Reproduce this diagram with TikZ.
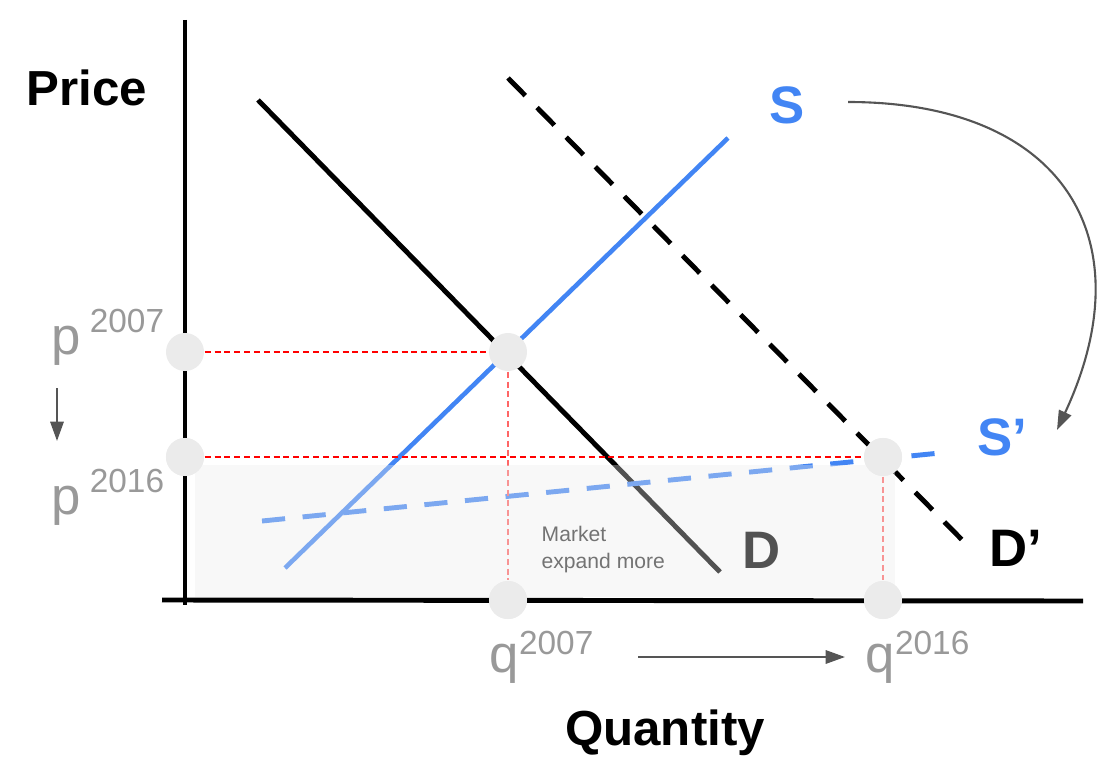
\documentclass[tikz,border=0pt]{standalone}
\usepackage{fontspec}
\setmainfont{Liberation Sans}
\usepackage{tikz}
\usetikzlibrary{arrows.meta}
\definecolor{supplyblue}{HTML}{4285F4}
\definecolor{markgray}{HTML}{EBEBEB}
\definecolor{yeargray}{HTML}{999999}
\definecolor{arrowgray}{HTML}{555555}
\definecolor{notegray}{HTML}{333333}
\tikzset{
  axisline/.style={line width=1.4pt, black},
  demandline/.style={line width=1.4pt, black},
  supplyline/.style={line width=1.3pt, supplyblue},
  shifted/.style={dash pattern=on 7pt off 4.8pt},
  guide/.style={line width=0.5pt, red, dash pattern=on 1.7pt off 1.1pt},
  marker/.style={circle, fill=markgray, inner sep=0pt, minimum size=0.38cm},
  axislabel/.style={font=\fontsize{14}{16}\selectfont\bfseries},
  curvelabel/.style={font=\fontsize{15}{17}\selectfont\bfseries},
  yearlabel/.style={text=yeargray, font=\fontsize{15}{17}\selectfont, anchor=base west, inner sep=0pt},
  moveline/.style={line width=0.6pt, arrowgray, -{Triangle[length=5.5pt, width=3.8pt]}},
}

\begin{document}
\begin{tikzpicture}[
  x=0.01cm,
  y=-0.01cm,
]
\useasboundingbox (0,0) rectangle (1112,773);

% axes
\coordinate (ytop) at (185,20);
\coordinate (ybot) at (185,605);
\coordinate (xleft) at (162,600);
\coordinate (xright) at (1083,601);
\draw[axisline] (ytop) -- (ybot);
\draw[axisline] (xleft) -- (xright);

% demand and supply
\coordinate (d-a) at (258,100);
\coordinate (d-b) at (720,572);
\coordinate (dd-a) at (508,78);
\coordinate (dd-b) at (972,550);
\coordinate (s-a) at (285,568);
\coordinate (s-b) at (728,138);
\coordinate (ss-a) at (262,521);
\coordinate (ss-b) at (950,452);
\draw[demandline] (d-a) -- (d-b);
\draw[demandline, shifted] (dd-a) -- (dd-b);
\draw[supplyline] (s-a) -- (s-b);
\draw[supplyline, line width=1.4pt, dash pattern=on 6.6pt off 5pt] (ss-a) -- (ss-b);

% points
\foreach \n/\x/\y in {p07/185/352,
                      p16/185/457,
                      e07/508/352,
                      q07/508/600,
                      e16/883/457,
                      q16/883/600}
  {
   \node [marker, name=\n] at (\x,\y) {};
  }

\draw[guide] (p07) -- (e07);
\draw[guide] (p16) -- (e16);
\draw[guide, red!60] (e07) -- (q07);
\draw[guide, red!60] (e16) -- (q16);

\node [curvelabel, name=labD] at (762,550) {D};
\node [font=\fontsize{6}{7.4}\selectfont, text=notegray, align=left,
       anchor=north west, inner sep=0pt, name=note] at (541,526) {Market\\expand more};

% market area
\fill [black!8, opacity=0.35] (195,465) rectangle (895,597);

% redraw the points above the area
\foreach \n in {p16,q07,e16,q16}
  {
   \node [marker] at (\n) {};
  }

% labels
\node [axislabel, name=price] at (87,88) {Price};
\node [axislabel, name=quantity] at (665,733) {Quantity};
\node [curvelabel, text=supplyblue, name=labS] at (787,105) {S};
\node [curvelabel, text=supplyblue, name=labSs] at (1002,437) {S’};
\node [curvelabel, name=labDd] at (1016,548) {D’};

\node [yearlabel, name=lp07] at (51,354) {p\hspace{2.5pt}\raisebox{6pt}{\fontsize{9.5}{9.5}\selectfont 2007}};
\node [yearlabel, name=lp16] at (51,514) {p\hspace{2.5pt}\raisebox{6pt}{\fontsize{9.5}{9.5}\selectfont 2016}};
\node [yearlabel, name=lq07] at (489,672) {q\raisebox{5pt}{\fontsize{9.5}{9.5}\selectfont 2007}};
\node [yearlabel, name=lq16] at (865,672) {q\raisebox{5pt}{\fontsize{9.5}{9.5}\selectfont 2016}};

% movements
\coordinate (pmove-a) at (57,388);
\coordinate (pmove-b) at (57,441);
\coordinate (qmove-a) at (638,657);
\coordinate (qmove-b) at (845,657);
\coordinate (smove-a) at (848,102);
\coordinate (smove-b) at (1057,430);
\draw[moveline] (pmove-a) -- (pmove-b);
\draw[moveline] (qmove-a) -- (qmove-b);
\draw[moveline] (smove-a) to[out=0, in=65, looseness=1.4] (smove-b);

\end{tikzpicture}
\end{document}
